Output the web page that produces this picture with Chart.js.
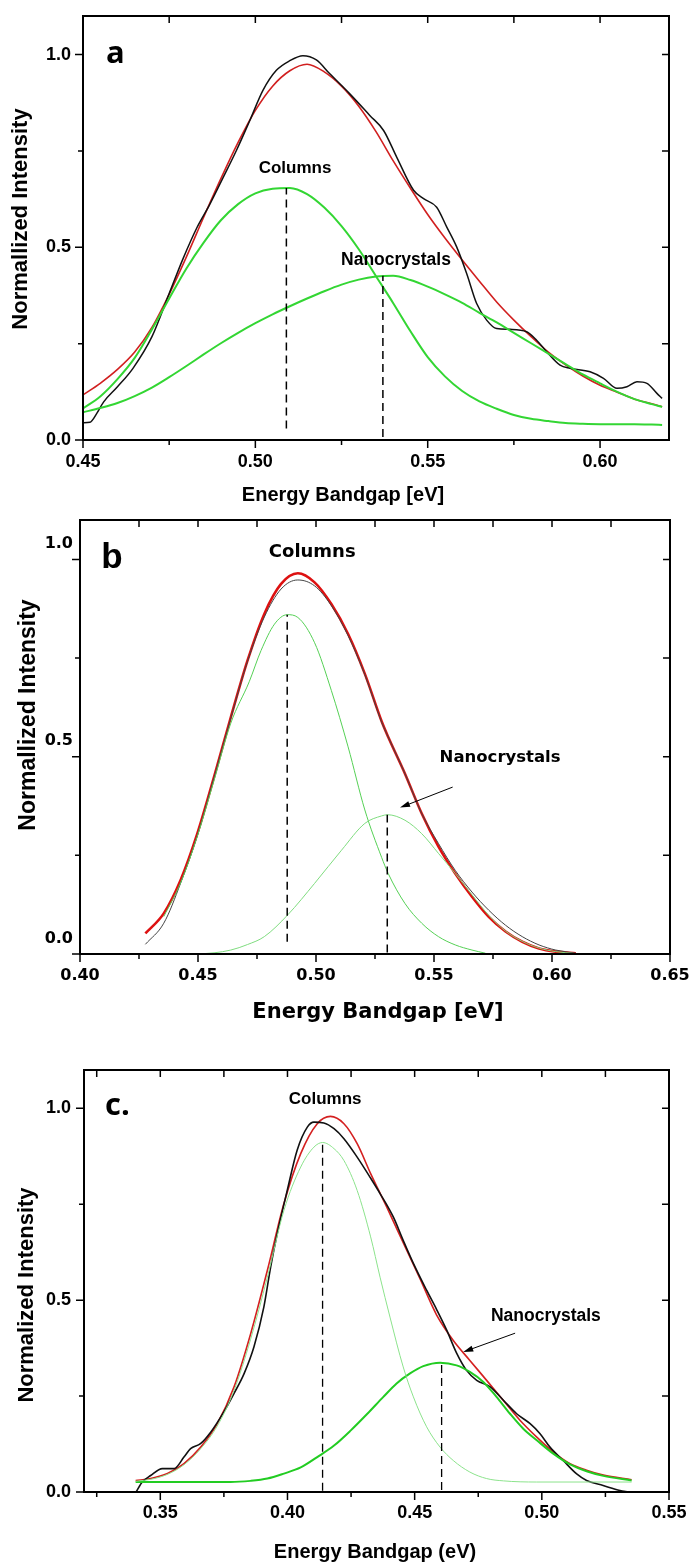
<!DOCTYPE html>
<html>
<head>
<meta charset="utf-8">
<title>Energy bandgap spectra</title>
<script src="https://cdn.jsdelivr.net/npm/chart.js@4.4.1/dist/chart.umd.min.js"></script>
<style>
  body { margin: 0; background: #fff; }
  #wrap { position: relative; width: 689px; height: 1565px; }
  canvas { position: absolute; left: 0; }
</style>
</head>
<body>
<div id="wrap">
  <canvas id="panelA" width="689" height="515" style="top:0"></canvas>
  <canvas id="panelB" width="689" height="515" style="top:515px"></canvas>
  <canvas id="panelC" width="689" height="535" style="top:1030px"></canvas>
</div>
<script>
// ---------- panel a ----------
const aGridX = [0.450, 0.455, 0.460, 0.465, 0.470, 0.475, 0.480, 0.485, 0.490, 0.495, 0.500, 0.505,
  0.510, 0.515, 0.520, 0.525, 0.530, 0.535, 0.540, 0.545, 0.550, 0.555, 0.560, 0.565, 0.570, 0.575,
  0.580, 0.585, 0.590, 0.595, 0.600, 0.605, 0.610, 0.615, 0.618];
const aFitY = [0.117, 0.147, 0.183, 0.228, 0.292, 0.378, 0.475, 0.578, 0.678, 0.772, 0.855, 0.918,
  0.958, 0.975, 0.955, 0.918, 0.866, 0.800, 0.724, 0.653, 0.585, 0.524, 0.467, 0.412, 0.358, 0.311,
  0.268, 0.228, 0.195, 0.166, 0.142, 0.124, 0.106, 0.094, 0.086];
const aColumnsY = [0.082, 0.113, 0.158, 0.213, 0.287, 0.367, 0.445, 0.512, 0.570, 0.612, 0.640, 0.652,
  0.654, 0.638, 0.603, 0.555, 0.495, 0.425, 0.355, 0.282, 0.215, 0.165, 0.127, 0.100, 0.081, 0.065,
  0.055, 0.049, 0.044, 0.042, 0.041, 0.041, 0.041, 0.040, 0.039];
const aNanoY = [0.072, 0.083, 0.096, 0.114, 0.136, 0.163, 0.192, 0.222, 0.251, 0.278, 0.303, 0.326,
  0.347, 0.367, 0.386, 0.403, 0.416, 0.424, 0.426, 0.415, 0.398, 0.378, 0.356, 0.330, 0.305, 0.278,
  0.251, 0.224, 0.197, 0.170, 0.147, 0.125, 0.106, 0.093, 0.086];
const aExpX = [0.450, 0.452, 0.454, 0.456, 0.460, 0.4645, 0.470, 0.475, 0.479, 0.483, 0.4867, 0.4906,
  0.4945, 0.4984, 0.5022, 0.5061, 0.510, 0.5138, 0.5177, 0.5216, 0.5274, 0.5332, 0.5372, 0.541, 0.5459,
  0.5488, 0.5526, 0.5555, 0.5584, 0.5613, 0.5642, 0.5671, 0.570, 0.5739, 0.5787, 0.5816, 0.5845, 0.5884,
  0.5913, 0.5971, 0.601, 0.6049, 0.6078, 0.6107, 0.6136, 0.6165, 0.618];
const aExpY = [0.045, 0.046, 0.069, 0.099, 0.138, 0.186, 0.268, 0.380, 0.470, 0.550, 0.610, 0.680,
  0.751, 0.829, 0.907, 0.959, 0.984, 0.997, 0.986, 0.950, 0.898, 0.842, 0.803, 0.734, 0.648,
  0.626, 0.604, 0.553, 0.501, 0.432, 0.354, 0.311, 0.289, 0.287, 0.281, 0.259, 0.229, 0.194,
  0.186, 0.177, 0.160, 0.134, 0.138, 0.151, 0.147, 0.121, 0.108];
const aPeakX = [0.509, 0.537];
const aPeakY = [0.654, 0.426];
const aPeakBase = [0.03, 0.008];
const aXTicks = [0.45, 0.475, 0.50, 0.525, 0.55, 0.575, 0.60];
const aXLabels = [0.45, 0.50, 0.55, 0.60];

// ---------- panel b ----------
const bExpX = [0.4277, 0.4355, 0.4426, 0.4497, 0.4568, 0.4639, 0.4710, 0.4781, 0.4852, 0.4923, 0.4994,
  0.5065, 0.5136, 0.5207, 0.5278, 0.5306, 0.5377, 0.5448, 0.5519, 0.5590, 0.5661, 0.5732, 0.5803,
  0.5874, 0.5945, 0.6016, 0.6101];
const bExpY = [0.0245, 0.078, 0.179, 0.300, 0.447, 0.598, 0.742, 0.854, 0.925, 0.948, 0.933,
  0.883, 0.807, 0.708, 0.588, 0.550, 0.457, 0.356, 0.280, 0.212, 0.157, 0.111, 0.073,
  0.044, 0.023, 0.010, 0.002];
const bFitY = [0.052, 0.103, 0.187, 0.305, 0.449, 0.600, 0.744, 0.862, 0.938, 0.965, 0.942,
  0.887, 0.811, 0.710, 0.590, 0.550, 0.457, 0.356, 0.272, 0.204, 0.145, 0.094, 0.057,
  0.031, 0.014, 0.006, 0.002];
const bColumnsX = [0.4355, 0.4426, 0.4497, 0.4568, 0.4639, 0.4717, 0.4767, 0.4824, 0.4878, 0.4923,
  0.4994, 0.5065, 0.5136, 0.5207, 0.5278, 0.5306, 0.5377, 0.5448, 0.5519, 0.5590, 0.5661, 0.5718];
const bColumnsY = [0.095, 0.180, 0.298, 0.440, 0.585, 0.690, 0.769, 0.836, 0.860, 0.853,
  0.789, 0.668, 0.525, 0.365, 0.245, 0.204, 0.128, 0.078, 0.044, 0.023, 0.010, 0.002];
const bNanoX = [0.4497, 0.4568, 0.4639, 0.4710, 0.4781, 0.4880, 0.4994, 0.5108, 0.5207, 0.5278, 0.5303,
  0.5377, 0.5448, 0.5519, 0.5590, 0.5661, 0.5732, 0.5803, 0.5874, 0.5945, 0.6016, 0.6101];
const bNanoY = [0.000, 0.003, 0.010, 0.024, 0.044, 0.099, 0.179, 0.263, 0.331, 0.350, 0.353,
  0.339, 0.305, 0.255, 0.204, 0.150, 0.098, 0.058, 0.032, 0.015, 0.006, 0.001];
const bPeakX = [0.4878, 0.5302];
const bPeakY = [0.860, 0.353];
const bPeakBase = [0.031, 0.004];
const bXTicks = [0.40, 0.425, 0.45, 0.475, 0.50, 0.525, 0.55, 0.575, 0.60, 0.625, 0.65];
const bXLabels = [0.40, 0.45, 0.50, 0.55, 0.60, 0.65];

// ---------- panel c ----------
const cExpX = [0.3405, 0.3429, 0.3462, 0.3508, 0.3554, 0.3593, 0.3619, 0.3658, 0.3698, 0.3750, 0.3789,
  0.3829, 0.3868, 0.3907, 0.3934, 0.3960, 0.3999, 0.4038, 0.4078, 0.4104, 0.4143, 0.4183, 0.4222,
  0.4274, 0.4327, 0.4364, 0.4416, 0.4455, 0.4495, 0.4547, 0.4587, 0.4626, 0.4665, 0.4704, 0.4744,
  0.4797, 0.4849, 0.4901, 0.4954, 0.4993, 0.5032, 0.5084, 0.5137, 0.5176, 0.5241, 0.5307, 0.5340];
const cExpY = [0.000, 0.026, 0.043, 0.061, 0.061, 0.091, 0.113, 0.126, 0.156, 0.209, 0.256,
  0.308, 0.378, 0.482, 0.587, 0.674, 0.786, 0.891, 0.951, 0.964, 0.962, 0.947, 0.921,
  0.873, 0.818, 0.778, 0.717, 0.656, 0.596, 0.526, 0.475, 0.422, 0.362, 0.317, 0.291,
  0.274, 0.239, 0.204, 0.178, 0.152, 0.117, 0.082, 0.047, 0.030, 0.017, 0.004, 0.000];
const cFitX = [0.3403, 0.3462, 0.3528, 0.3593, 0.3659, 0.3724, 0.3790, 0.3855, 0.3921, 0.3986, 0.4052,
  0.4117, 0.4169, 0.4222, 0.4274, 0.4327, 0.4390, 0.4455, 0.4521, 0.4586, 0.4652, 0.4717, 0.4783,
  0.4848, 0.4914, 0.4980, 0.5045, 0.5111, 0.5176, 0.5242, 0.5353];
const cFitY = [0.030, 0.035, 0.048, 0.074, 0.117, 0.178, 0.274, 0.412, 0.578, 0.752, 0.882,
  0.960, 0.979, 0.960, 0.908, 0.830, 0.743, 0.650, 0.556, 0.462, 0.395, 0.343, 0.291,
  0.239, 0.187, 0.143, 0.104, 0.074, 0.057, 0.044, 0.032];
const cColumnsX = [0.3403, 0.3462, 0.3528, 0.3593, 0.3659, 0.3724, 0.3790, 0.3855, 0.3921, 0.3986, 0.4052,
  0.4104, 0.4138, 0.4183, 0.4222, 0.4274, 0.4327, 0.4364, 0.4403, 0.4455, 0.4495, 0.4547, 0.4600,
  0.4652, 0.4717, 0.4783, 0.4849, 0.4980, 0.5353];
const cColumnsY = [0.028, 0.033, 0.046, 0.071, 0.113, 0.172, 0.265, 0.398, 0.560, 0.734, 0.847,
  0.899, 0.911, 0.895, 0.864, 0.786, 0.665, 0.560, 0.456, 0.326, 0.248, 0.170, 0.117,
  0.082, 0.052, 0.035, 0.029, 0.026, 0.026];
const cNanoX = [0.3403, 0.3776, 0.3855, 0.3921, 0.3986, 0.4052, 0.4117, 0.4183, 0.4248, 0.4314, 0.4377,
  0.4429, 0.4482, 0.4534, 0.4600, 0.4665, 0.4717, 0.4770, 0.4822, 0.4875, 0.4927, 0.4980, 0.5045,
  0.5111, 0.5176, 0.5242, 0.5353];
const cNanoY = [0.026, 0.026, 0.029, 0.035, 0.048, 0.064, 0.091, 0.121, 0.160, 0.204, 0.248,
  0.283, 0.309, 0.328, 0.337, 0.330, 0.313, 0.287, 0.248, 0.204, 0.165, 0.135, 0.100,
  0.072, 0.054, 0.042, 0.030];
const cPeakX = [0.4138, 0.4606];
const cPeakY = [0.911, 0.337];
const cPeakBase = [0.003, 0.005];
const cXTicks = [0.325, 0.35, 0.375, 0.40, 0.425, 0.45, 0.475, 0.50, 0.525, 0.55];
const cXLabels = [0.35, 0.40, 0.45, 0.50, 0.55];

// shared y axis
const yTicks = [0, 0.25, 0.5, 0.75, 1.0];
const yLabels = [0, 0.5, 1.0];

const SANS = "'Liberation Sans', Arial, sans-serif";
const WIDE = "'DejaVu Sans', Verdana, sans-serif";
const CAL = "'Open Sans', 'Liberation Sans', sans-serif";

function pts(xs, ys) { return xs.map((x, i) => ({x: x, y: ys[i]})); }
function isIn(v, list) { return list.some(m => Math.abs(m - v) < 1e-6); }

function curve(xs, ys, color, width) {
  return {
    data: pts(xs, ys), borderColor: color, borderWidth: width,
    pointRadius: 0, cubicInterpolationMode: 'monotone', fill: false
  };
}

function dropLines(xs, tops, bases, width) {
  return xs.map((x, i) => ({
    data: [{x: x, y: bases[i]}, {x: x, y: tops[i]}],
    borderColor: '#000', borderWidth: width, borderDash: [8, 5], pointRadius: 0
  }));
}

// box + Origin-style ticks: out on left/bottom, in on top/right
function framePlugin() {
  return {
    id: 'frame',
    afterDatasetsDraw(chart) {
      const {ctx, chartArea: a, scales: {x, y}} = chart;
      ctx.save();
      ctx.strokeStyle = '#000';
      ctx.lineWidth = 2;
      ctx.strokeRect(a.left, a.top, a.right - a.left, a.bottom - a.top);
      ctx.lineWidth = 1.5;
      ctx.beginPath();
      x.ticks.forEach(t => {
        const px = x.getPixelForValue(t.value);
        const len = t.label ? 8 : 5;
        ctx.moveTo(px, a.bottom); ctx.lineTo(px, a.bottom + len);
        ctx.moveTo(px, a.top); ctx.lineTo(px, a.top + 7);
      });
      y.ticks.forEach(t => {
        const py = y.getPixelForValue(t.value);
        const len = t.label ? 8 : 5;
        ctx.moveTo(a.left - len, py); ctx.lineTo(a.left, py);
        ctx.moveTo(a.right, py); ctx.lineTo(a.right - 7, py);
      });
      ctx.stroke();
      ctx.restore();
    }
  };
}

// axis titles, panel letter, peak labels and arrows
function decorPlugin(p) {
  return {
    id: 'decor',
    afterDatasetsDraw(chart) {
      const {ctx, scales: {x, y}} = chart;
      ctx.save();
      ctx.fillStyle = '#000';
      ctx.strokeStyle = '#000';
      ctx.textBaseline = 'alphabetic';
      ctx.textAlign = 'center';
      ctx.font = p.xTitle.font;
      ctx.fillText(p.xTitle.text, p.xTitle.x, p.xTitle.y);
      ctx.save();
      ctx.translate(p.yTitle.x, p.yTitle.y);
      ctx.rotate(-Math.PI / 2);
      ctx.font = p.yTitle.font;
      ctx.fillText(p.yTitle.text, 0, 0);
      ctx.restore();

      p.notes.forEach(n => {
        ctx.font = n.font;
        ctx.textAlign = n.align || 'center';
        ctx.textBaseline = n.base || 'middle';
        ctx.fillText(n.text, x.getPixelForValue(n.x), y.getPixelForValue(n.y));
      });

      (p.arrows || []).forEach(ar => {
        const x0 = x.getPixelForValue(ar[0]), y0 = y.getPixelForValue(ar[1]);
        const x1 = x.getPixelForValue(ar[2]), y1 = y.getPixelForValue(ar[3]);
        const ang = Math.atan2(y1 - y0, x1 - x0);
        const c = Math.cos(ang), s = Math.sin(ang);
        ctx.lineWidth = 1;
        ctx.beginPath();
        ctx.moveTo(x0, y0);
        ctx.lineTo(x1 - 6 * c, y1 - 6 * s);
        ctx.stroke();
        ctx.beginPath();
        ctx.moveTo(x1, y1);
        ctx.lineTo(x1 - 10 * c + 3 * s, y1 - 10 * s - 3 * c);
        ctx.lineTo(x1 - 10 * c - 3 * s, y1 - 10 * s + 3 * c);
        ctx.closePath();
        ctx.fill();
      });
      ctx.restore();
    }
  };
}

function makePanel(id, p) {
  const el = document.getElementById(id);
  return new Chart(el, {
    type: 'line',
    data: { datasets: p.datasets },
    options: {
      responsive: false,
      animation: false,
      devicePixelRatio: 1,
      layout: { padding: { left: 0, top: p.area.top, right: el.width - p.area.right, bottom: 0 } },
      plugins: { legend: { display: false }, tooltip: { enabled: false } },
      scales: {
        x: {
          type: 'linear', min: p.xMin, max: p.xMax,
          grid: { display: false, drawTicks: false },
          border: { display: false },
          afterBuildTicks: s => { s.ticks = p.xTicks.map(v => ({value: v})); },
          afterFit: s => {
            s.height = el.height - p.area.bottom;
            s.paddingLeft = 0; s.paddingRight = 0;
          },
          ticks: {
            autoSkip: false, maxRotation: 0, minRotation: 0,
            padding: p.xPad, color: '#000', font: p.tickFont,
            callback: v => isIn(v, p.xLabels) ? v.toFixed(2) : ''
          }
        },
        y: {
          type: 'linear', min: 0, max: 1.1,
          grid: { display: false, drawTicks: false },
          border: { display: false },
          afterBuildTicks: s => { s.ticks = yTicks.map(v => ({value: v})); },
          afterFit: s => {
            s.width = p.area.left;
            s.paddingTop = 0; s.paddingBottom = 0;
          },
          ticks: {
            autoSkip: false, padding: p.yPad, labelOffset: p.yOffset || 0,
            color: '#000', font: p.tickFont,
            callback: v => isIn(v, yLabels) ? v.toFixed(1) : ''
          }
        }
      }
    },
    plugins: [framePlugin(), decorPlugin(p)]
  });
}

// a
makePanel('panelA', {
  area: { left: 83, right: 669, top: 16, bottom: 440 },
  xMin: 0.45, xMax: 0.62, xTicks: aXTicks, xLabels: aXLabels,
  xPad: 11, yPad: 12,
  tickFont: { family: SANS, size: 18, weight: 'bold' },
  datasets: [
    ...dropLines(aPeakX, aPeakY, aPeakBase, 1.5),
    curve(aGridX, aNanoY, '#33d633', 2),
    curve(aGridX, aColumnsY, '#33d633', 2),
    curve(aExpX, aExpY, '#111111', 1.5),
    curve(aGridX, aFitY, '#d11f1f', 1.6)
  ],
  xTitle: { text: 'Energy Bandgap [eV]', x: 343, y: 501, font: 'bold 20px ' + SANS },
  yTitle: { text: 'Normallized Intensity', x: 27, y: 219, font: 'bold 22px ' + SANS },
  notes: [
    { text: 'a', x: 0.4567, y: 0.979, align: 'left', base: 'alphabetic', font: 'bold 31px ' + CAL },
    { text: 'Columns', x: 0.5115, y: 0.705, font: 'bold 17px ' + SANS },
    { text: 'Nanocrystals', x: 0.5408, y: 0.466, font: 'bold 17.5px ' + SANS }
  ]
});

// b
makePanel('panelB', {
  area: { left: 80, right: 670, top: 5, bottom: 439 },
  xMin: 0.40, xMax: 0.65, xTicks: bXTicks, xLabels: bXLabels,
  xPad: 12, yPad: 7, yOffset: -15.5,
  tickFont: { family: WIDE, size: 16, weight: 'bold' },
  datasets: [
    ...dropLines(bPeakX, bPeakY, bPeakBase, 1.5),
    curve(bNanoX, bNanoY, '#7fdc7f', 1),
    curve(bColumnsX, bColumnsY, '#55d055', 1),
    curve(bExpX, bExpY, '#444444', 1),
    curve(bExpX, bFitY, '#dd1111', 2.6)
  ],
  xTitle: { text: 'Energy Bandgap [eV]', x: 378, y: 503, font: 'bold 21px ' + WIDE },
  yTitle: { text: 'Normallized Intensity', x: 35, y: 200, font: 'bold 23px ' + SANS },
  notes: [
    { text: 'b', x: 0.409, y: 0.979, align: 'left', base: 'alphabetic', font: 'bold 35px ' + SANS },
    { text: 'Columns', x: 0.4984, y: 1.017, font: 'bold 18px ' + WIDE },
    { text: 'Nanocrystals', x: 0.578, y: 0.497, font: 'bold 16.5px ' + WIDE }
  ],
  arrows: [[0.5579, 0.423, 0.5356, 0.371]]
});

// c
makePanel('panelC', {
  area: { left: 84, right: 669, top: 40, bottom: 462 },
  xMin: 0.32, xMax: 0.55, xTicks: cXTicks, xLabels: cXLabels,
  xPad: 10, yPad: 13,
  tickFont: { family: SANS, size: 18, weight: 'bold' },
  datasets: [
    ...dropLines(cPeakX, cPeakY, cPeakBase, 1.3),
    curve(cColumnsX, cColumnsY, '#8ce38c', 1),
    curve(cNanoX, cNanoY, '#22cc22', 2),
    curve(cExpX, cExpY, '#111111', 1.6),
    curve(cFitX, cFitY, '#d42020', 1.6)
  ],
  xTitle: { text: 'Energy Bandgap (eV)', x: 375, y: 528, font: 'bold 20px ' + SANS },
  yTitle: { text: 'Normalized Intensity', x: 33, y: 265, font: 'bold 22px ' + SANS },
  notes: [
    { text: 'c.', x: 0.3283, y: 0.982, align: 'left', base: 'alphabetic', font: 'bold 31px ' + CAL },
    { text: 'Columns', x: 0.4148, y: 1.023, font: 'bold 17px ' + SANS },
    { text: 'Nanocrystals', x: 0.5016, y: 0.459, font: 'bold 17.5px ' + SANS }
  ],
  arrows: [[0.4895, 0.414, 0.4691, 0.365]]
});
</script>
</body>
</html>
